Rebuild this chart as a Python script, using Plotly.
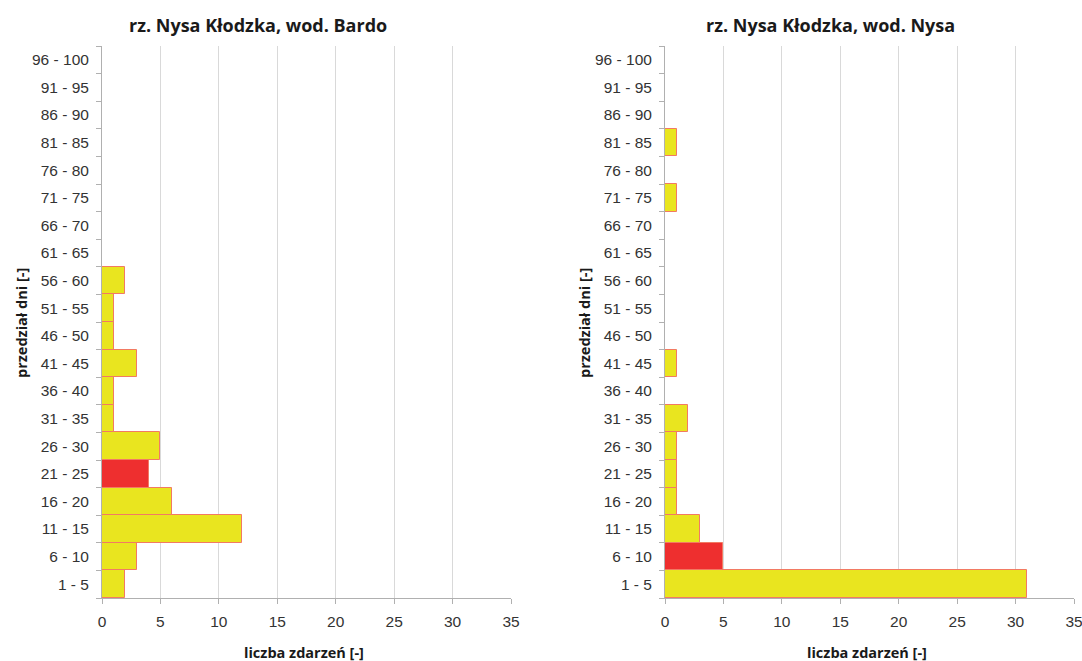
import plotly.graph_objects as go

# Day-interval classes (bottom to top)
categories = ["1 - 5", "6 - 10", "11 - 15", "16 - 20", "21 - 25", "26 - 30", "31 - 35",
              "36 - 40", "41 - 45", "46 - 50", "51 - 55", "56 - 60", "61 - 65", "66 - 70",
              "71 - 75", "76 - 80", "81 - 85", "86 - 90", "91 - 95", "96 - 100"]

# Event counts per interval
bardo_counts = [2, 3, 12, 6, 4, 5, 1, 1, 3, 1, 1, 2, 0, 0, 0, 0, 0, 0, 0, 0]
nysa_counts = [31, 5, 3, 1, 1, 1, 2, 0, 1, 0, 0, 0, 0, 0, 1, 0, 1, 0, 0, 0]

# Interval highlighted in each station
bardo_highlight = "21 - 25"
nysa_highlight = "6 - 10"

titles = ["rz. Nysa Kłodzka, wod. Bardo", "rz. Nysa Kłodzka, wod. Nysa"]
x_title = "liczba zdarzeń [-]"
y_title = "przedział dni [-]"
x_ticks = [0, 5, 10, 15, 20, 25, 30, 35]

YELLOW = "#e9e51f"
RED = "#ee2f2f"
EDGE = "#f27a63"

W, H = 1082, 661
left_dom = [102 / W, 511 / W]
right_dom = [665 / W, 1074 / W]
y_dom = [1 - 598 / H, 1 - 46 / H]

TICK_FONT = dict(family="Liberation Sans Narrow, Liberation Sans, sans-serif",
                 size=15.5, color="#333333")
BOLD_FONT = "Open Sans, Noto Sans, sans-serif"

fig = go.Figure()

for i, (counts, hl) in enumerate([(bardo_counts, bardo_highlight), (nysa_counts, nysa_highlight)]):
    colors = [RED if c == hl else YELLOW for c in categories]
    fig.add_trace(go.Bar(
        x=counts, y=categories, orientation="h",
        marker=dict(color=colors, line=dict(color=EDGE, width=1)),
        xaxis="x" if i == 0 else "x2", yaxis="y" if i == 0 else "y2",
        showlegend=False, hoverinfo="x+y",
    ))

axis_x = dict(range=[0, 35], tickvals=x_ticks, showgrid=True, gridcolor="#d9d9d9", gridwidth=1,
              zeroline=False, showline=True, linecolor="#b0b0b0", linewidth=1, automargin=False,
              ticklabeloverflow="allow", ticklabelstandoff=4,
              ticks="outside", ticklen=5, tickcolor="#b0b0b0", tickfont=TICK_FONT, fixedrange=True)
axis_y = dict(type="category", categoryorder="array", categoryarray=categories,
              showgrid=False, zeroline=False, showline=True, linecolor="#b0b0b0", linewidth=1,
              automargin=False, ticks="outside", ticklen=5, tickcolor="#b0b0b0", tickson="boundaries",
              ticklabelstandoff=9, tickfont=TICK_FONT, fixedrange=True)

fig.update_layout(
    width=W, height=H,
    margin=dict(l=0, r=0, t=0, b=0),
    paper_bgcolor="white", plot_bgcolor="white",
    bargap=0,
    xaxis=dict(axis_x, domain=left_dom, anchor="y"),
    yaxis=dict(axis_y, domain=y_dom, anchor="x"),
    xaxis2=dict(axis_x, domain=right_dom, anchor="y2"),
    yaxis2=dict(axis_y, domain=y_dom, anchor="x2"),
)

annotations = []
for cx, text in [(258, titles[0]), (830, titles[1])]:
    annotations.append(dict(x=cx / W, y=1 - 25 / H, xref="paper", yref="paper", text=f"<b>{text}</b>",
                            showarrow=False, font=dict(family=BOLD_FONT, size=18, color="#1a1a1a"),
                            xanchor="center", yanchor="middle"))
for cx in [304, 867]:
    annotations.append(dict(x=cx / W, y=1 - 652 / H, xref="paper", yref="paper", text=f"<b>{x_title}</b>",
                            showarrow=False, font=dict(family=BOLD_FONT, size=14.5, color="#1a1a1a"),
                            xanchor="center", yanchor="middle"))
for cx in [21, 584]:
    annotations.append(dict(x=cx / W, y=1 - 323 / H, xref="paper", yref="paper", text=f"<b>{y_title}</b>",
                            showarrow=False, textangle=-90, font=dict(family=BOLD_FONT, size=14.5, color="#1a1a1a"),
                            xanchor="center", yanchor="middle"))
fig.update_layout(annotations=annotations)

fig.write_html("out.html")
